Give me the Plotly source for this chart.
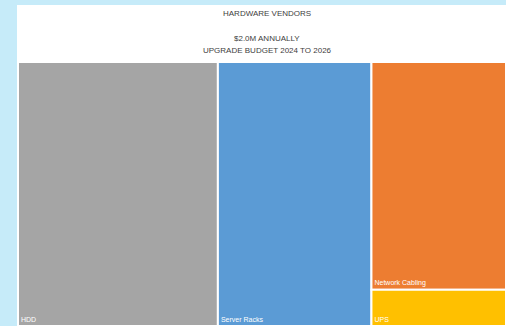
import plotly.graph_objects as go

# Hardware spend by vendor category
categories = ["HDD", "Server Racks", "Network Cabling", "UPS"]
spend = [820, 630, 476, 76]
colors = ["#a5a5a5", "#5b9bd5", "#ed7d31", "#ffc000"]

title_line = "HARDWARE VENDORS"
subtitle_lines = ["$2.0M ANNUALLY", "UPGRADE BUDGET 2024 TO 2026"]

fig = go.Figure(
    go.Treemap(
        labels=categories,
        parents=["" for _ in categories],
        values=spend,
        marker=dict(colors=colors,
                    line=dict(color="white", width=2),
                    pad=dict(t=0, l=0, r=0, b=0)),
        textposition="bottom left",
        textinfo="label",
        textfont=dict(family="Liberation Sans", size=7, color="white"),
        tiling=dict(pad=0, packing="squarify"),
        pathbar=dict(visible=False),
        sort=True,
        hoverinfo="label+value",
    )
)

W, H = 506, 326
ml, mt = 18, 62
pw, ph = W - ml, H - mt
cx = (267 - ml) / pw

text_font = dict(family="Liberation Sans", size=8, color="#404040")

fig.update_layout(
    width=W, height=H,
    margin=dict(l=ml, r=0, t=mt, b=0),
    paper_bgcolor="#c6ebf9",
    showlegend=False,
    shapes=[dict(type="rect", xref="paper", yref="paper",
                 x0=-1 / pw, x1=1.01, y0=-0.01, y1=1 + 57 / ph,
                 fillcolor="white", line=dict(width=0), layer="below")],
    annotations=[
        dict(text=title_line, xref="paper", yref="paper", yanchor="middle",
             x=cx, y=1 + 49 / ph, showarrow=False, font=text_font),
        dict(text=subtitle_lines[0], xref="paper", yref="paper", yanchor="middle",
             x=cx, y=1 + 24 / ph, showarrow=False, font=text_font),
        dict(text=subtitle_lines[1], xref="paper", yref="paper", yanchor="middle",
             x=cx, y=1 + 12 / ph, showarrow=False, font=text_font),
    ],
)

fig.write_html("out.html")
